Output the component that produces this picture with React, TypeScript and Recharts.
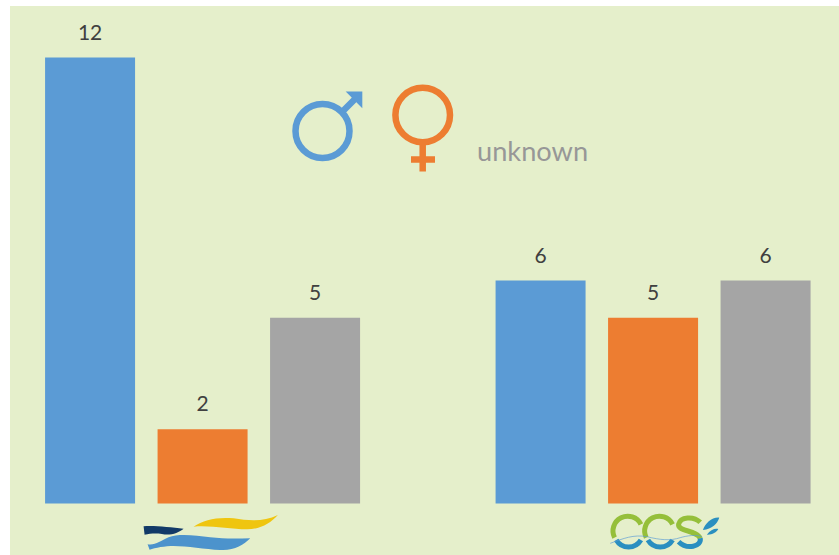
import React from 'react';
import { BarChart, Bar, XAxis, YAxis, LabelList } from 'recharts';

const categories = ['wave', 'ccs'];
const male = [12, 6];
const female = [2, 5];
const unknown = [5, 6];

const data = categories.map((name, i) => ({
  name,
  male: male[i],
  female: female[i],
  unknown: unknown[i],
}));

const BLUE = '#5b9bd5';
const ORANGE = '#ed7d31';
const GREY = '#a5a5a5';
const labelStyle = { fontFamily: 'Lato', fontSize: 21, fill: '#404040' };

// logos are traced at 3x, so they get scaled down
function WaveLogo({ x }: { x: number }) {
  return (
    <g transform={`translate(${x - 82.5},495) scale(0.3333)`}>
      <path d="M70,94 C100,91 150,97 190,101 C175,113 150,123 125,117 C105,114 90,116 73,119 Z" fill="#123a68" />
      <path d="M220,95 C250,75 290,65 340,70 C390,78 430,80 473,60 C450,85 420,103 380,103 C330,103 270,90 220,95 Z" fill="#efc50f" />
      <path d="M82,148 C105,152 120,138 145,127 C175,115 225,121 270,127 C310,132 350,131 390,130 C370,150 340,168 300,165 C255,163 200,153 160,153 C135,153 105,158 88,164 Z" fill="#4c93cc" />
    </g>
  );
}

function CcsLogo({ x }: { x: number }) {
  return (
    <g transform={`translate(${x - 63},495) scale(0.3333)`} fill="none" strokeWidth={15}>
      <path d="M152,88 A43,43 0 1 0 73,128" stroke="#95bf3a" />
      <path d="M247,88 A43,43 0 1 0 168,128" stroke="#95bf3a" />
      <path d="M330,82 C310,62 270,65 265,88 C262,110 320,105 330,130" stroke="#95bf3a" />
      <path d="M78,135 A43,43 0 0 0 152,135" stroke="#2a8fc0" />
      <path d="M173,135 A43,43 0 0 0 247,135" stroke="#2a8fc0" />
      <path d="M330,130 C335,155 290,165 265,140" stroke="#2a8fc0" />
      <path d="M60,145 C100,130 130,118 170,125 C210,135 240,138 270,128 C290,122 320,118 335,125" stroke="#5b9bd5" strokeWidth={2} />
      <path d="M338,105 C345,85 365,66 387,68 C382,85 365,102 338,105 Z" fill="#2a8fc0" stroke="none" />
      <path d="M350,119 C360,104 375,99 384,102 C379,112 365,120 350,119 Z" fill="#2a8fc0" stroke="none" />
    </g>
  );
}

function LogoTick(props: any) {
  return props.payload.value === 'wave' ? <WaveLogo x={props.x} /> : <CcsLogo x={props.x} />;
}

function GenderKey() {
  return (
    <g fill="none" strokeWidth={6.5}>
      <circle cx={322.5} cy={131} r={27} stroke={BLUE} />
      <path d="M343,111 L357,97" stroke={BLUE} />
      <path d="M345.7,91.5 L362.3,91.5 L362.3,108.3 Z" fill={BLUE} stroke="none" />
      <circle cx={422.7} cy={115} r={27.3} stroke={ORANGE} />
      <path d="M422.7,145 L422.7,171.5 M411,159.6 L435,159.6" stroke={ORANGE} strokeWidth={6.5} />
      <text x={477} y={161} fontFamily="Lato" fontSize={27.2} fill="#979797" stroke="none">unknown</text>
    </g>
  );
}

export default function App() {
  return (
    <div style={{ position: 'fixed', left: 0, top: 0, width: 839, height: 555, overflow: 'hidden', background: '#fff' }}>
      <div style={{ position: 'absolute', left: 10, top: 6, right: 0, bottom: 0, background: '#e5efcb' }} />
      <BarChart
        width={839}
        height={555}
        data={data}
        margin={{ top: 57.5, right: -39.5, bottom: 0, left: -22.5 }}
        barCategoryGap="15%"
        barGap={22.5}
      >
        <XAxis dataKey="name" height={51.5} axisLine={false} tickLine={false} tick={LogoTick} interval={0} />
        <YAxis hide domain={[0, 12]} />
        <Bar dataKey="male" fill={BLUE} isAnimationActive={false}>
          <LabelList dataKey="male" position="top" offset={18} style={labelStyle} />
        </Bar>
        <Bar dataKey="female" fill={ORANGE} isAnimationActive={false}>
          <LabelList dataKey="female" position="top" offset={18} style={labelStyle} />
        </Bar>
        <Bar dataKey="unknown" fill={GREY} isAnimationActive={false}>
          <LabelList dataKey="unknown" position="top" offset={18} style={labelStyle} />
        </Bar>
        <GenderKey />
      </BarChart>
    </div>
  );
}
